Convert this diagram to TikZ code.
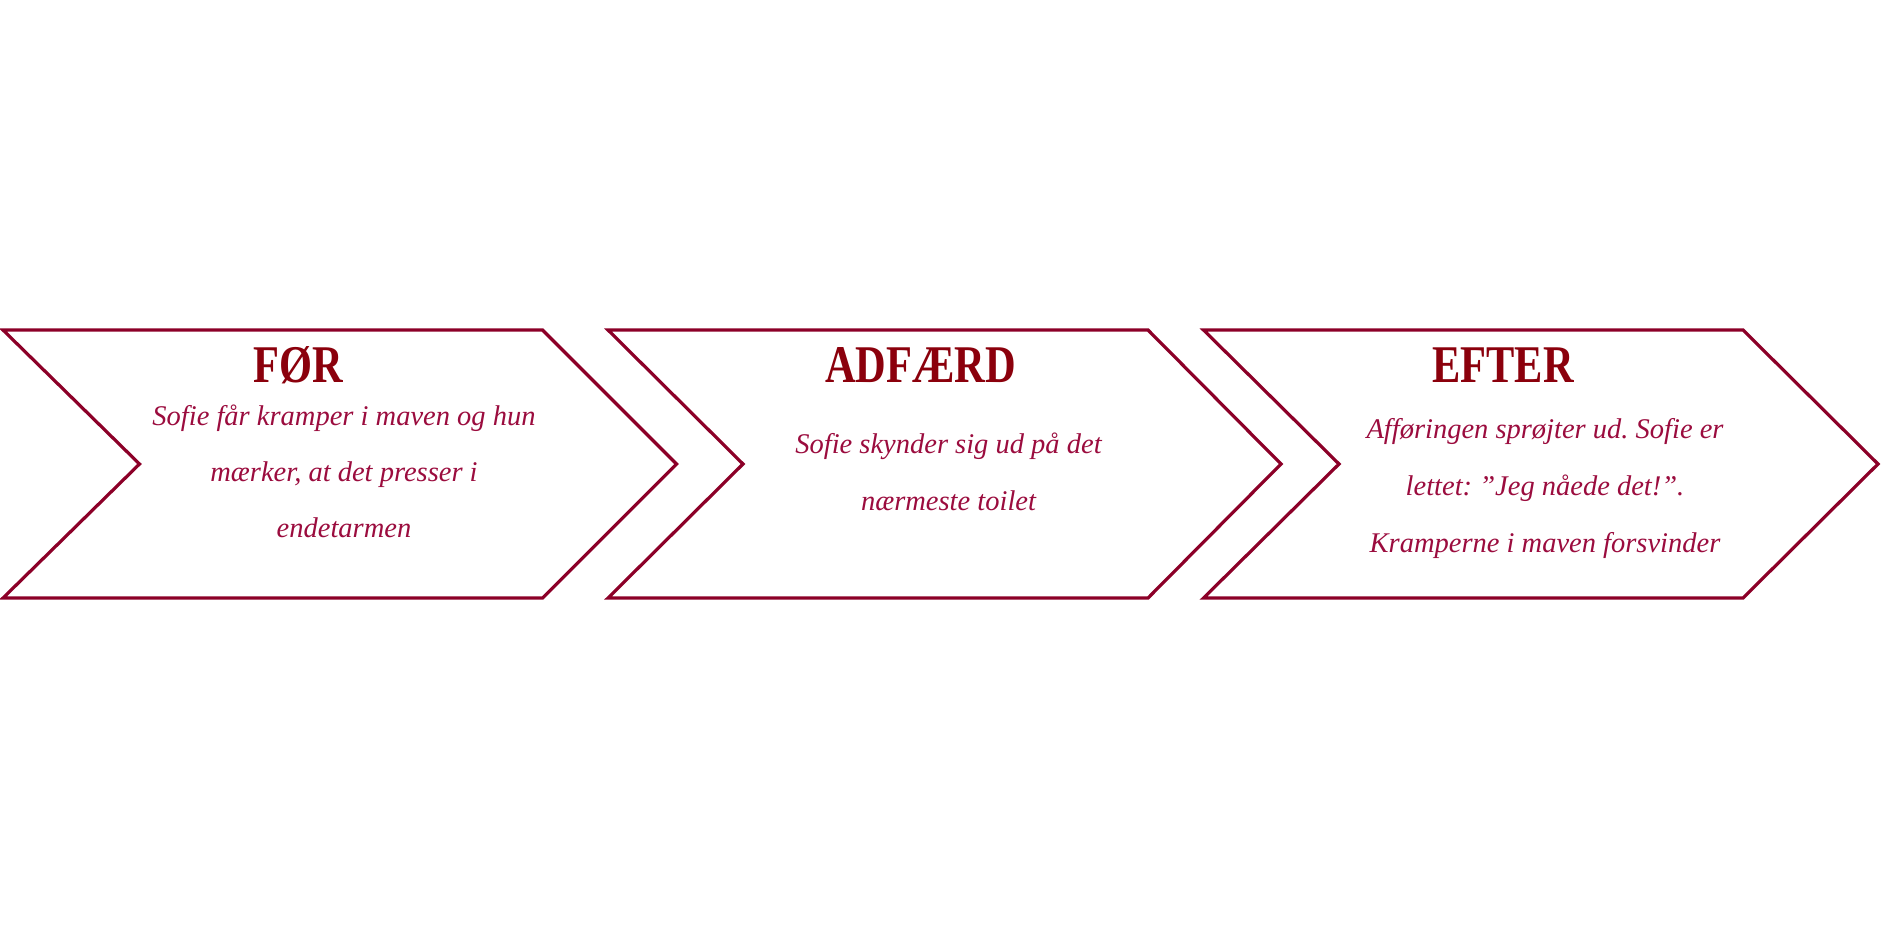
\documentclass[tikz,border=0pt]{standalone}
\usepackage{fontspec}
\usepackage{graphicx}
\setmainfont{Liberation Serif}
\frenchspacing
\definecolor{outl}{RGB}{140,0,40}
\definecolor{ttl}{RGB}{139,0,12}
\definecolor{bdy}{RGB}{155,12,62}
\tikzset{
  chev/.style={draw=outl,line width=3.2pt,line join=miter,fill=white},
  ttlnode/.style={anchor=base,inner sep=0pt,text=ttl,font=\fontsize{53}{60}\selectfont\bfseries},
  bodyline/.style={anchor=base,inner sep=0pt,text=bdy,font=\fontsize{28.5}{34}\selectfont\itshape}
}
\begin{document}
\begin{tikzpicture}[x=1pt,y=-1pt]
\useasboundingbox (0,0) rectangle (1886,930);
% chevrons
\draw[chev] (3,330) -- (542.5,330) -- (676.5,464) -- (542.5,598) -- (3,598) -- (139.5,464) -- cycle;
\draw[chev] (608,330) -- (1148,330) -- (1281,464) -- (1148,598) -- (608,598) -- (743,464) -- cycle;
\draw[chev] (1203.5,330) -- (1743,330) -- (1878,464) -- (1743,598) -- (1203.5,598) -- (1339,464) -- cycle;
% titles
\node[ttlnode] (t1) at (298,382) {\scalebox{0.8}[1]{FØR}};
\node[ttlnode] (t2) at (920.5,382) {\scalebox{0.8}[1]{ADFÆRD}};
\node[ttlnode] (t3) at (1503,382) {\scalebox{0.8}[1]{EFTER}};
% body texts
\node[bodyline] (b1a) at (344,425) {Sofie får kramper i maven og hun};
\node[bodyline] (b1b) at (344,481.5) {mærker, at det presser i};
\node[bodyline] (b1c) at (344,537) {endetarmen};
\node[bodyline] (b2a) at (948.5,453) {Sofie skynder sig ud på det};
\node[bodyline] (b2b) at (948.5,510) {nærmeste toilet};
\node[bodyline] (b3a) at (1545,438) {Afføringen sprøjter ud. Sofie er};
\node[bodyline] (b3b) at (1545,495) {lettet: ”Jeg nåede det!”.};
\node[bodyline] (b3c) at (1545,552) {Kramperne i maven forsvinder};
\end{tikzpicture}
\end{document}
